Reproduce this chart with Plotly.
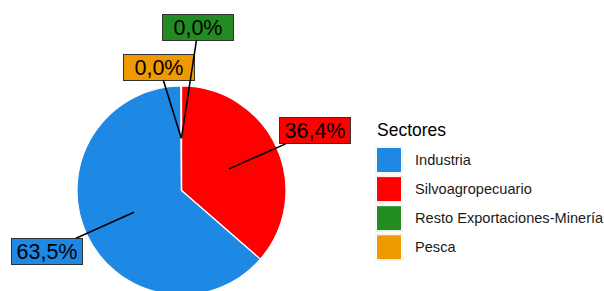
import math
import plotly.graph_objects as go

# ---- data ----
sectores = ["Industria", "Silvoagropecuario", "Resto Exportaciones-Minería", "Pesca"]
valores = [63.5, 36.4, 0.04, 0.04]
colores = ["#1E88E5", "#FF0000", "#228B22", "#EE9A00"]
legend_title = "Sectores"
# order in which slices are drawn clockwise from 12 o'clock
orden_torta = [1, 0, 3, 2]

# ---- layout geometry (pixels) ----
W, H = 604, 300
CX, CY, R = 181.5, 190.5, 104.5          # pie centre / radius in px (from top-left)
# label offsets (ggrepel-like placement), px relative to anchor point, per sector
label_offsets = {0: (-87, 39), 1: (86, -38), 2: (17, -111), 3: (-22, -71)}

def px_x(x):
    return x / W

def px_y(y):
    return (H - y) / H

fig = go.Figure()
fig.add_trace(go.Pie(
    labels=[sectores[i] for i in orden_torta],
    values=[valores[i] for i in orden_torta],
    marker=dict(colors=[colores[i] for i in orden_torta], line=dict(color="white", width=1.2)),
    sort=False,
    direction="clockwise",
    rotation=0,
    textinfo="none",
    hoverinfo="label+percent",
    showlegend=False,
    domain=dict(x=[px_x(CX - R), px_x(CX + R)], y=[px_y(CY + R), px_y(CY - R)]),
))

total = sum(valores)
annotations = []
shapes = []
cum = 0.0
for i in orden_torta:
    v, col = valores[i], colores[i]
    mid = (cum + v / 2) / total * 2 * math.pi   # clockwise angle from 12 o'clock
    cum += v
    axp = CX + 0.5 * R * math.sin(mid)
    ayp = CY - 0.5 * R * math.cos(mid)
    pct = v / total * 100
    txt = f"{pct:.1f}%".replace(".", ",")
    ox, oy = label_offsets[i]
    annotations.append(dict(
        x=px_x(axp), y=px_y(ayp), xref="paper", yref="paper",
        text=txt, showarrow=True, arrowhead=0, arrowwidth=1.6, arrowcolor="black",
        ax=ox, ay=oy, axref="pixel", ayref="pixel", standoff=0, startstandoff=0,
        font=dict(family="Liberation Sans, Arial", size=21.5, color="black"),
        bgcolor=col, bordercolor="#333333", borderwidth=1, borderpad=2,
        width=66, height=21,
    ))

# ---- manual legend ----
annotations.append(dict(
    x=px_x(375), y=px_y(129.5), xref="paper", yref="paper", xanchor="left", yanchor="middle",
    text=legend_title, showarrow=False,
    font=dict(family="Liberation Sans, Arial", size=17.5, color="black"),
))
for i, (lab, col) in enumerate(zip(sectores, colores)):
    yc = 160 + i * 29.1
    shapes.append(dict(type="rect", xref="paper", yref="paper",
                       x0=px_x(375.5), x1=px_x(402.5), y0=px_y(yc + 13.5), y1=px_y(yc - 13.5),
                       fillcolor="#EBEBEB", line=dict(width=0)))
    shapes.append(dict(type="rect", xref="paper", yref="paper",
                       x0=px_x(376.5), x1=px_x(401.5), y0=px_y(yc + 12.5), y1=px_y(yc - 12.5),
                       fillcolor=col, line=dict(color="white", width=1)))
    annotations.append(dict(
        x=px_x(412.5), y=px_y(yc), xref="paper", yref="paper", xanchor="left", yanchor="middle",
        text=lab, showarrow=False,
        font=dict(family="Liberation Sans, Arial", size=14.6, color="#1A1A1A"),
    ))

fig.update_layout(
    width=W, height=H,
    margin=dict(l=0, r=0, t=0, b=0),
    paper_bgcolor="white", plot_bgcolor="white",
    annotations=annotations, shapes=shapes,
    showlegend=False,
)

fig.write_html(
    "out.html",
    config={"displayModeBar": False},
    post_script="document.body.style.margin='0';document.body.style.overflow='hidden';document.documentElement.style.overflow='hidden';",
)
